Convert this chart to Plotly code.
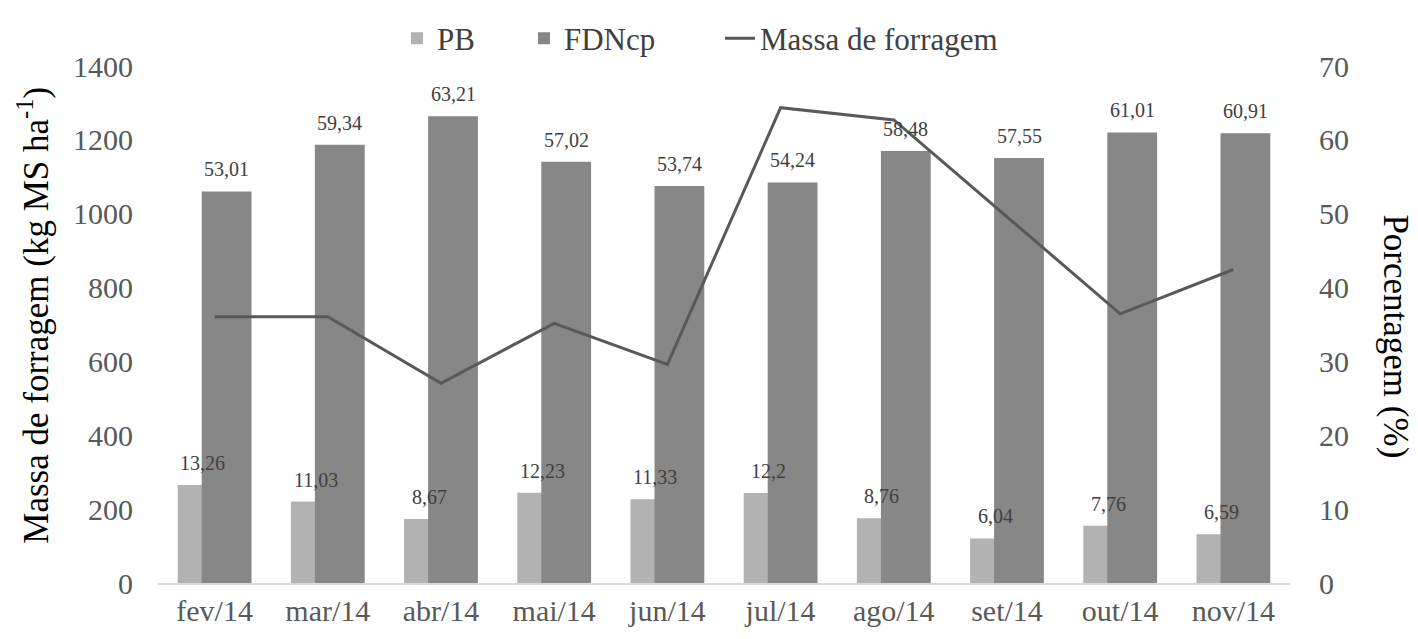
import plotly.graph_objects as go

# Monthly data (2014)
months = ["fev/14", "mar/14", "abr/14", "mai/14", "jun/14",
          "jul/14", "ago/14", "set/14", "out/14", "nov/14"]
pb = [13.26, 11.03, 8.67, 12.23, 11.33, 12.2, 8.76, 6.04, 7.76, 6.59]
fdncp = [53.01, 59.34, 63.21, 57.02, 53.74, 54.24, 58.48, 57.55, 61.01, 60.91]
massa = [721, 721, 541, 703, 592, 1287, 1254, 992, 729, 849]

left_ticks = [0, 200, 400, 600, 800, 1000, 1200, 1400]
right_ticks = [0, 10, 20, 30, 40, 50, 60, 70]

FONT = "Liberation Serif, Times New Roman, serif"
C_PB = "#b2b2b2"
C_FDN = "#878787"
C_LINE = "#595959"

x = list(range(len(months)))
bar_w = 0.44
shift = 0.106


def fmt(v):
    return str(v).replace(".", ",")


fig = go.Figure()

fig.add_trace(go.Bar(
    x=x, y=pb, name="PB", marker=dict(color=C_PB, line=dict(width=0)),
    width=bar_w, offset=-shift - bar_w / 2, yaxis="y", legend="legend",
))
fig.add_trace(go.Bar(
    x=x, y=fdncp, name="FDNcp", marker=dict(color=C_FDN, line=dict(width=0)),
    width=bar_w, offset=shift - bar_w / 2, yaxis="y", legend="legend2",
))
fig.add_trace(go.Scatter(
    x=x, y=massa, name="Massa de forragem", mode="lines",
    line=dict(color=C_LINE, width=3), yaxis="y2", legend="legend3",
))

annotations = []
for i in x:
    annotations.append(dict(
        x=i - shift, y=pb[i], xref="x", yref="y", text=fmt(pb[i]),
        showarrow=False, yanchor="bottom", yshift=9,
        font=dict(family=FONT, size=20, color="#404040"),
    ))
    annotations.append(dict(
        x=i + shift, y=fdncp[i], xref="x", yref="y", text=fmt(fdncp[i]),
        showarrow=False, yanchor="bottom", yshift=9,
        font=dict(family=FONT, size=20, color="#404040"),
    ))

# Axis titles
annotations.append(dict(
    x=0, xref="paper", xanchor="center", xshift=-124, y=0.517, yref="paper",
    yanchor="middle",
    text="Massa de forragem (kg MS ha<sup>-1</sup>)", textangle=-90,
    showarrow=False, font=dict(family=FONT, size=35, color="#000000"),
))
annotations.append(dict(
    x=1, xref="paper", xanchor="center", xshift=106, y=0.477, yref="paper",
    yanchor="middle",
    text="Porcentagem (%)", textangle=90,
    showarrow=False, font=dict(family=FONT, size=35, color="#000000"),
))

leg_common = dict(
    orientation="h", xanchor="left", y=1.053, yanchor="middle",
    font=dict(family=FONT, size=31, color="#404040"),
    bgcolor="rgba(0,0,0,0)", itemwidth=30,
)

fig.update_layout(
    width=1418, height=639,
    margin=dict(l=158, r=128, t=58, b=51),
    paper_bgcolor="white", plot_bgcolor="white",
    barmode="overlay",
    font=dict(family=FONT, size=30, color="#595959"),
    showlegend=True,
    legend=dict(x=0.2111, **leg_common),
    legend2=dict(x=0.3233, **leg_common),
    legend3=dict(x=0.4965, **leg_common),
    xaxis=dict(
        range=[-0.5, len(months) - 0.5],
        tickmode="array", tickvals=x, ticktext=months,
        showline=True, linecolor="#d9d9d9", linewidth=1.5,
        showgrid=False, zeroline=False, ticks="",
        tickfont=dict(family=FONT, size=30, color="#595959"),
    ),
    yaxis=dict(
        side="right", range=[0, 70], tickmode="array", tickvals=right_ticks,
        showgrid=False, zeroline=False, showline=False, ticks="",
        ticklabelstandoff=28,
        tickfont=dict(family=FONT, size=30, color="#595959"),
    ),
    yaxis2=dict(
        overlaying="y", side="left", range=[0, 1400],
        tickmode="array", tickvals=left_ticks,
        showgrid=False, zeroline=False, showline=False, ticks="",
        ticklabelstandoff=24,
        tickfont=dict(family=FONT, size=30, color="#595959"),
    ),
    annotations=annotations,
)

fig.write_html("out.html")
